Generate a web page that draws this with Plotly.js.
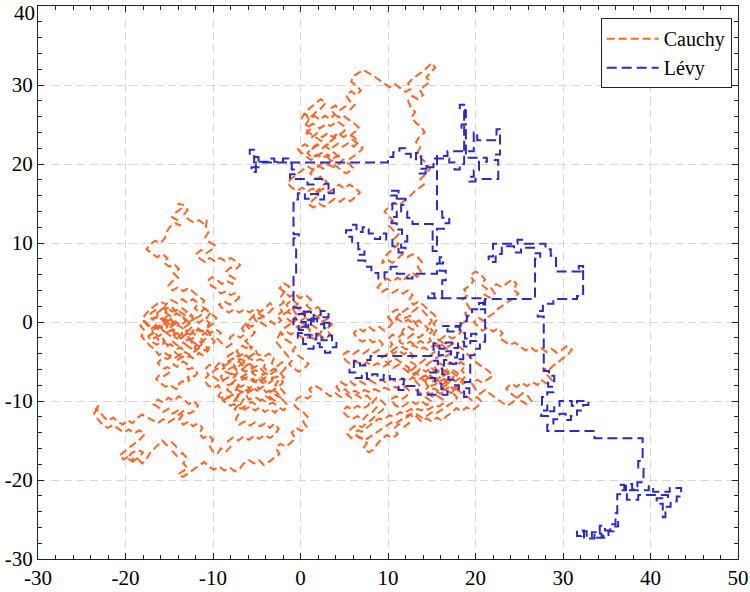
<!DOCTYPE html>
<html><head><meta charset="utf-8">
<script src="https://cdn.plot.ly/plotly-3.0.1.min.js"></script>
<style>html,body{margin:0;padding:0;background:#fff}</style>
</head><body><div id="chart" style="width:750px;height:592px"></div>
<script>
// ---- Cauchy random walk (orange) ----
const cauchyNearOrigin = [[0,0],[0.4,-0.3],[0.8,-0.6],[1.2,-0.3],[1.6,-0.6],[2.0,-0.9],[2.4,-1.2],[2.1,-1.6],[1.7,-1.9],[1.3,-1.6],[0.9,-1.9],[0.5,-2.2],[0.1,-1.9],[-0.3,-1.6],[-0.7,-1.3],[-1.1,-1.6],[-1.5,-1.3],[-1.9,-1.6],[-2.3,-1.3],[-2.0,-1.8],[-1.7,-2.2],[-1.3,-2.5],[-0.9,-2.8],[-0.6,-3.2],[-0.9,-3.6],[-0.6,-4.0],[-0.2,-4.3],[0.2,-4.6],[0.6,-4.9],[0.9,-5.3],[0.6,-5.7],[0.2,-6.0],[-0.2,-6.3],[-0.6,-6.0],[-1.0,-5.7],[-1.3,-5.3],[-1.0,-4.9],[-1.3,-4.5],[-1.6,-4.1],[-1.9,-3.7],[-2.2,-3.3],[-2.5,-2.9],[-2.8,-2.5],[-2.6,-2.0],[-2.3,-1.3],[-2.0,-0.9],[-1.6,-0.6],[-1.2,-0.3],[-0.8,0.0],[-0.4,0.3],[-0.7,0.7],[-1.1,1.0],[-1.5,1.3],[-1.1,1.7],[-0.7,2.0],[-0.3,1.7],[0.1,1.4],[0.5,1.1],[0.9,1.4],[1.3,1.1],[1.7,0.8],[2.1,0.5],[1.7,0.2],[1.3,0.5],[0.9,0.2],[0.5,0.5],[0.1,0.2],[0,0]];

const cauchyOrigin = [[0,0],[0.6,0.5],[0.2,1.2],[-0.5,1.0],[-0.9,1.7],[-0.3,2.3],[-1.0,2.8],[-1.6,2.2],[-1.2,1.5],[-1.9,1.0],[-1.4,0.3],[-0.7,-0.2],[-0.2,-0.9],[0.5,-0.5],[1.1,-1.0],[0.8,-1.7],[1.5,-2.1],[2.2,-1.6],[2.8,-2.2],[3.4,-1.6],[3.0,-0.9],[3.6,-0.3],[3.1,0.4],[2.4,0.0],[1.9,0.6],[2.5,1.2],[2.0,1.9],[1.3,1.5],[0.7,2.1],[1.2,2.8],[0.6,3.4],[-0.1,3.0],[-0.6,3.6],[-1.2,3.2],[-1.8,3.7],[-2.4,4.3],[-1.9,4.9],[-1.3,4.5],[-1.8,3.9],[-2.3,3.1],[-1.9,2.5],[-2.5,2.0],[-2.1,1.3],[-2.7,0.8],[-2.2,0.2],[-2.8,-0.4],[-3.4,0.1],[-3.9,-0.5],[-4.5,-0.1],[-4.2,0.6],[-4.8,1.1],[-5.4,0.7],[-5.0,0.0],[-5.6,-0.6],[-6.2,-0.2],[-6.7,-0.8],[-6.3,-1.5],[-6.9,-2.0],[-7.5,-1.5],[-8.1,-2.0],[-7.8,-2.7],[-8.4,-3.2],[-9.0,-2.7],[-9.5,-2.1],[-9.1,-1.4],[-9.7,-0.9],[-10.3,-1.4],[-10.8,-0.8],[-10.4,-0.1],[-11.0,0.4],[-11.6,-0.1],[-12.2,0.4]];

const cauchyLeftTangle = [[-12.6,0.1],[-12.9,-0.3],[-12.5,-0.7],[-12.8,-1.1],[-13.3,-1.0],[-13.6,-1.4],[-13.4,-1.9],[-13.8,-2.2],[-14.3,-2.0],[-14.5,-1.6],[-14.2,-1.2],[-14.6,-0.9],[-15.0,-1.2],[-15.4,-0.9],[-15.2,-0.5],[-15.6,-0.2],[-16.0,-0.5],[-16.3,-0.9],[-16.7,-0.6],[-17.0,-1.0],[-16.8,-1.4],[-17.2,-1.7],[-16.9,-2.1],[-16.5,-1.9],[-16.2,-2.3],[-15.8,-2.0],[-15.5,-2.4],[-15.7,-2.8],[-15.3,-3.1],[-14.9,-2.8],[-14.5,-3.1],[-14.1,-3.4],[-13.7,-3.2],[-13.4,-3.6],[-13.6,-4.0],[-14.0,-4.3],[-14.4,-4.6],[-14.8,-4.4],[-15.2,-4.7],[-15.6,-4.5],[-16.0,-4.8],[-16.3,-5.2],[-16.0,-5.6],[-15.6,-5.9],[-15.2,-5.7],[-14.8,-6.0],[-15.0,-6.4],[-15.4,-6.7],[-15.8,-7.0],[-16.2,-6.8],[-16.5,-7.2],[-16.2,-7.6],[-15.8,-7.9],[-15.4,-8.2],[-15.0,-7.9],[-14.6,-8.2],[-14.2,-8.5],[-13.8,-8.2],[-13.9,-7.8],[-13.5,-7.5],[-13.1,-7.7],[-12.7,-7.4],[-12.9,-7.0],[-12.5,-6.7],[-12.1,-6.9],[-11.8,-6.5],[-12.0,-6.1],[-12.4,-5.8],[-12.8,-6.0],[-13.2,-5.7],[-13.0,-5.3],[-13.4,-5.0],[-13.8,-5.3],[-14.1,-5.7],[-14.5,-5.4],[-14.3,-5.0],[-13.9,-4.7],[-13.5,-4.4],[-13.1,-4.6],[-12.7,-4.3],[-12.3,-4.6],[-11.9,-4.3],[-11.6,-3.9],[-11.2,-4.2],[-10.8,-3.9],[-10.5,-3.5],[-10.8,-3.1],[-11.2,-2.8],[-11.6,-3.1],[-12.0,-2.8],[-12.4,-2.5],[-12.8,-2.2],[-13.2,-2.4],[-13.1,-2.9],[-12.7,-3.2],[-12.3,-3.5],[-11.9,-3.7],[-12.1,-3.2],[-11.8,-2.8],[-11.4,-2.5],[-11.0,-2.2],[-10.6,-2.0],[-10.3,-1.6],[-10.6,-1.2],[-11.0,-0.9],[-11.4,-1.2],[-11.8,-1.0],[-12.2,-1.3],[-12.6,-1.6],[-13.0,-1.4],[-13.2,-1.0],[-13.6,-0.7],[-14.0,-0.4],[-14.4,-0.6],[-14.8,-0.3],[-14.6,0.1],[-15.0,0.4],[-15.4,0.2],[-15.8,0.5],[-16.2,0.3],[-16.6,0.6],[-17.0,0.4],[-17.3,0.8],[-17.0,1.2],[-16.6,1.5],[-16.2,1.3],[-15.8,1.7],[-15.4,2.0],[-15.0,1.6],[-14.6,1.3],[-14.2,1.6],[-13.8,1.3],[-13.4,1.0],[-13.0,0.7],[-12.6,0.8],[-12.2,0.4]];

const cauchyLeftCore = [[-12.8,0.0],[-13.4,0.6],[-13.0,1.3],[-13.6,1.8],[-14.3,1.4],[-14.8,2.0],[-15.5,1.6],[-15.1,0.9],[-15.7,0.3],[-16.3,0.8],[-16.9,0.3],[-16.5,-0.4],[-17.1,-0.9],[-17.6,-0.3],[-18.1,0.3],[-17.7,1.0],[-17.2,1.6],[-16.6,2.1],[-16.0,2.6],[-15.4,2.2],[-14.8,2.8],[-14.1,2.4],[-13.5,2.9],[-12.9,2.4],[-12.3,2.9],[-11.7,2.4],[-12.1,1.7],[-11.5,1.2],[-10.9,1.7],[-10.3,1.2],[-10.7,0.5],[-11.3,0.9],[-11.9,0.5],[-12.5,1.0],[-12.2,0.3],[-12.8,-0.3],[-13.4,-0.8],[-12.9,-1.4],[-13.5,-1.9],[-14.1,-1.4],[-14.7,-1.9],[-15.3,-1.4],[-14.9,-0.7],[-14.3,-0.2],[-14.8,0.4],[-15.4,-0.1],[-16.0,-0.6],[-15.6,-1.3],[-16.2,-1.8],[-16.8,-1.3],[-17.4,-1.8],[-17.0,-2.5],[-16.4,-2.9],[-15.8,-2.4],[-15.2,-2.9],[-14.6,-2.5],[-14.0,-3.0],[-13.4,-2.6],[-12.8,-3.1],[-12.3,-2.5],[-11.7,-3.0],[-11.1,-2.5],[-11.5,-1.9],[-10.9,-1.4],[-10.3,-1.9],[-9.8,-2.5],[-10.3,-3.1],[-10.9,-3.6],[-11.5,-3.2],[-12.1,-3.7],[-12.6,-4.2],[-13.2,-3.8],[-13.8,-4.3],[-14.4,-3.8],[-15.0,-4.3],[-15.6,-3.8],[-16.2,-4.2],[-16.6,-3.5],[-17.2,-3.0],[-17.7,-2.4],[-18.2,-1.8],[-17.8,-1.1],[-18.3,-0.5],[-17.8,0.1],[-17.3,-0.5],[-16.7,-0.9],[-16.1,-0.4],[-15.5,0.1],[-14.9,-0.4],[-14.3,0.1],[-13.7,-0.4],[-13.1,0.1],[-13.6,0.7],[-14.2,1.1],[-14.7,0.6],[-15.3,1.1],[-15.9,1.6],[-16.4,1.1],[-16.0,0.4],[-15.4,-0.1],[-15.9,-0.8],[-15.4,-1.4],[-14.8,-1.0],[-14.2,-1.5],[-13.7,-2.1],[-13.1,-1.7],[-12.5,-2.2],[-11.9,-1.8],[-12.4,-1.2],[-11.8,-0.7],[-11.2,-1.2],[-10.6,-0.7],[-10.0,-0.2],[-9.6,0.5],[-10.1,1.0],[-10.7,1.5],[-11.3,2.0],[-11.0,2.7],[-11.6,3.2],[-12.2,3.7]];

const cauchyUpperArm = [[-12.8,4.3],[-13.4,3.9],[-14.0,4.4],[-14.6,4.0],[-15.1,4.6],[-14.6,5.2],[-14.0,5.6],[-14.5,6.2],[-13.9,6.7],[-14.4,7.3],[-15.0,7.0],[-15.6,7.5],[-15.2,8.1],[-15.8,8.6],[-16.4,8.2],[-17.0,8.7],[-17.6,9.2],[-17.2,9.8],[-16.6,10.3],[-16.0,10.0],[-15.5,10.6],[-15.3,11.4],[-14.9,12.1],[-14.3,12.5],[-13.7,12.2],[-14.1,12.9],[-14.7,13.3],[-14.2,13.9],[-13.6,14.4],[-14.0,15.0],[-13.4,14.8],[-12.9,14.2],[-13.3,13.6],[-12.8,13.0],[-12.2,12.6],[-11.6,12.9],[-11.1,12.5],[-10.7,12.9],[-10.8,12.1],[-10.5,11.4],[-10.9,10.7],[-10.4,10.1],[-9.8,9.7],[-10.2,9.1],[-10.8,8.7],[-11.4,9.1],[-11.9,8.6],[-11.5,8.0],[-10.9,7.6],[-10.4,8.1],[-9.8,7.7],[-9.2,8.1],[-8.6,7.7],[-8.0,8.1],[-7.4,7.7],[-6.9,7.2],[-7.4,6.7],[-8.0,6.9],[-8.5,6.4],[-8.0,5.8],[-7.4,5.4],[-7.8,4.8],[-8.4,5.2],[-9.0,4.8],[-9.5,5.3],[-10.1,5.7],[-10.6,5.2],[-10.2,4.6],[-9.6,4.2],[-9.1,3.6],[-8.5,3.9],[-8.0,3.4],[-7.4,3.7],[-7.0,3.1],[-7.5,2.6],[-8.1,2.2],[-8.7,2.6],[-9.3,2.2],[-8.8,1.6],[-8.2,1.2],[-7.6,1.6],[-7.0,1.2],[-6.4,1.6],[-5.8,1.2],[-5.2,1.7],[-4.6,1.3],[-4.0,1.8],[-3.5,2.4],[-3.0,1.9],[-3.5,1.3],[-4.1,0.9],[-4.7,0.4],[-5.3,0.9],[-5.8,0.3],[-6.3,-0.3],[-5.8,-0.9],[-5.2,-1.3],[-5.7,-1.9],[-6.3,-2.4],[-5.8,-3.0]];

const cauchyLowerTangle = [[-6.2,-3.3],[-6.6,-3.0],[-7.0,-3.3],[-7.3,-3.7],[-7.0,-4.1],[-6.6,-4.4],[-6.2,-4.2],[-5.9,-4.6],[-6.2,-5.0],[-6.6,-5.2],[-7.0,-5.6],[-7.4,-5.9],[-7.8,-5.7],[-8.2,-6.0],[-8.0,-6.4],[-7.6,-6.7],[-7.2,-6.5],[-6.8,-6.8],[-6.5,-7.2],[-6.1,-7.0],[-5.7,-7.3],[-5.3,-7.6],[-4.9,-7.3],[-4.5,-7.0],[-4.1,-7.3],[-3.9,-7.7],[-4.2,-8.1],[-4.6,-8.4],[-5.0,-8.2],[-5.4,-8.5],[-5.8,-8.8],[-6.2,-9.1],[-6.6,-8.8],[-7.0,-9.1],[-7.4,-9.4],[-7.8,-9.2],[-8.2,-9.5],[-8.6,-9.3],[-9.0,-9.6],[-8.8,-10.0],[-8.4,-10.3],[-8.0,-10.6],[-7.6,-10.4],[-7.2,-10.7],[-6.8,-11.0],[-6.4,-10.7],[-6.0,-10.4],[-5.6,-10.1],[-5.2,-10.4],[-4.8,-10.1],[-4.4,-9.8],[-4.0,-10.1],[-3.6,-10.4],[-3.2,-10.2],[-2.8,-10.5],[-2.9,-10.0],[-3.3,-9.6],[-3.7,-9.3],[-3.5,-8.9],[-3.1,-8.6],[-2.7,-8.3],[-2.3,-8.0],[-2.0,-7.6],[-2.3,-7.2],[-2.7,-6.9],[-3.1,-7.1],[-3.5,-6.8],[-3.9,-6.5],[-4.3,-6.7],[-4.7,-6.4],[-5.1,-6.1],[-5.5,-6.3],[-5.9,-6.0],[-6.3,-6.3],[-6.7,-6.0],[-7.1,-6.2],[-7.5,-6.9],[-7.9,-7.2],[-8.3,-7.0],[-8.7,-7.3],[-9.1,-7.6],[-9.5,-7.3],[-9.9,-7.0],[-10.2,-6.6],[-9.9,-6.2],[-9.5,-5.9],[-9.1,-6.1],[-8.7,-5.8],[-8.9,-5.4],[-8.5,-5.1],[-8.1,-4.8],[-7.7,-4.6],[-7.3,-4.9],[-6.9,-4.7],[-6.5,-4.9],[-6.1,-4.6],[-5.7,-4.3],[-5.3,-4.0],[-5.6,-3.6],[-5.8,-3.0]];

const cauchyLowerCore = [[-5.2,-3.4],[-4.9,-4.1],[-4.2,-4.4],[-3.6,-4.0],[-3.0,-4.5],[-3.3,-5.2],[-2.7,-5.6],[-2.1,-5.1],[-1.7,-5.8],[-2.2,-6.4],[-2.9,-6.2],[-3.5,-6.7],[-3.2,-7.4],[-3.8,-7.9],[-4.5,-7.6],[-4.9,-6.9],[-5.5,-6.5],[-5.2,-5.8],[-5.8,-5.3],[-6.5,-5.6],[-7.0,-5.0],[-7.6,-5.4],[-7.3,-6.1],[-7.9,-6.6],[-8.6,-6.3],[-9.1,-6.9],[-8.8,-7.6],[-8.2,-8.0],[-7.5,-7.7],[-6.9,-8.2],[-6.2,-7.9],[-5.8,-8.5],[-6.3,-9.1],[-5.9,-9.8],[-5.2,-9.5],[-4.6,-9.9],[-4.0,-9.4],[-3.4,-9.8],[-2.9,-9.2],[-2.3,-9.6],[-1.8,-9.0],[-2.3,-8.4],[-2.9,-8.0],[-2.5,-7.4],[-1.9,-7.0],[-2.4,-6.3],[-3.0,-5.9],[-3.6,-6.3],[-4.2,-5.8],[-4.0,-5.1],[-4.6,-4.7],[-5.3,-5.0],[-5.9,-4.5],[-6.5,-4.0],[-7.1,-4.4],[-7.7,-3.9],[-8.3,-4.3],[-8.0,-5.0],[-8.6,-5.5],[-9.3,-5.2],[-9.8,-5.8],[-10.4,-5.4],[-10.9,-6.0],[-10.5,-6.7],[-11.0,-7.3],[-10.6,-8.0],[-10.0,-8.4],[-9.4,-8.0],[-9.0,-8.7],[-9.4,-9.4],[-8.8,-9.9],[-8.2,-9.5],[-7.6,-10.0],[-7.1,-9.4],[-6.5,-9.8],[-6.9,-10.5],[-6.4,-11.1],[-5.8,-10.7],[-5.2,-11.2],[-4.6,-10.8],[-4.1,-11.4],[-3.5,-11.0],[-2.9,-11.5],[-2.5,-10.8],[-1.9,-11.2],[-1.5,-10.5],[-2.0,-9.9],[-2.7,-8.9],[-3.3,-8.5],[-3.9,-8.9],[-4.4,-8.3],[-5.0,-8.7],[-5.5,-8.1],[-6.1,-8.6],[-6.7,-8.9],[-7.3,-8.5],[-7.8,-9.0],[-8.4,-8.6],[-8.0,-7.9],[-7.4,-7.3],[-6.8,-7.0],[-6.2,-6.6],[-6.6,-6.0],[-6.1,-5.4],[-5.5,-5.9],[-4.9,-5.5],[-4.4,-6.1],[-3.8,-6.8],[-4.3,-7.3],[-4.9,-7.8],[-5.4,-7.2],[-6.0,-7.4],[-6.5,-7.0],[-6.9,-7.6],[-7.3,-8.3],[-7.0,-9.0],[-7.4,-9.7],[-7.0,-10.4],[-7.5,-11.0],[-7.1,-11.7],[-7.4,-12.3],[-7.0,-13.0],[-6.4,-12.6],[-5.8,-13.1],[-5.2,-12.7],[-4.6,-13.2],[-4.0,-12.8],[-3.5,-13.4],[-3.0,-12.9],[-2.5,-13.5],[-2.9,-14.2],[-3.5,-14.7],[-4.1,-14.3],[-4.7,-14.8]];

const cauchyBottomLeft = [[-5.3,-14.4],[-5.9,-14.9],[-6.5,-14.5],[-7.1,-15.0],[-7.7,-14.6],[-8.3,-15.1],[-8.0,-15.8],[-8.5,-16.4],[-9.1,-16.0],[-9.5,-16.7],[-10.1,-16.3],[-10.4,-15.6],[-10.0,-14.9],[-10.5,-14.3],[-11.1,-14.7],[-11.6,-14.1],[-11.2,-13.4],[-11.7,-12.8],[-12.3,-13.2],[-12.8,-12.6],[-13.4,-13.0],[-13.9,-12.4],[-13.5,-11.8],[-14.0,-11.2],[-14.6,-11.6],[-15.1,-11.0],[-15.7,-11.4],[-16.2,-10.8],[-16.8,-10.4],[-16.3,-9.8],[-15.7,-10.2],[-15.1,-9.6],[-14.5,-10.0],[-13.9,-9.4],[-13.3,-9.8],[-12.8,-10.4],[-12.2,-10.0],[-11.7,-10.6],[-12.1,-11.2],[-12.7,-11.6],[-13.3,-11.2],[-13.9,-11.7],[-14.5,-12.3],[-15.1,-12.7],[-15.7,-12.3],[-16.3,-12.8],[-16.9,-12.4],[-17.5,-12.1],[-18.1,-11.7],[-18.7,-12.2],[-19.2,-12.8],[-19.8,-12.4],[-20.3,-13.0],[-20.9,-12.6],[-21.4,-12.1],[-22.0,-12.5],[-22.5,-12.0],[-22.9,-11.4],[-23.4,-11.0],[-23.0,-10.5],[-23.6,-11.6],[-23.1,-12.4],[-22.6,-13.0],[-22.0,-13.4],[-21.4,-13.0],[-20.8,-13.5],[-20.2,-14.0],[-19.6,-13.6],[-19.0,-14.1],[-18.4,-13.7],[-17.8,-14.2],[-18.3,-14.8],[-18.9,-15.3],[-19.5,-15.9],[-20.1,-16.4],[-20.7,-16.9],[-20.2,-17.4],[-19.6,-17.0],[-19.0,-17.5],[-18.4,-17.1],[-18.0,-16.5],[-18.6,-16.2],[-19.3,-16.6],[-19.8,-17.2],[-19.2,-17.7],[-18.6,-17.3],[-18.1,-17.9],[-17.6,-17.3],[-17.2,-16.6],[-16.7,-16.0],[-16.2,-15.4],[-15.8,-15.0],[-15.3,-15.6],[-14.7,-15.2],[-14.2,-15.8],[-14.6,-16.4],[-14.1,-17.0],[-13.5,-16.6],[-13.0,-17.2],[-13.4,-17.9],[-12.9,-18.5],[-13.5,-18.9],[-14.0,-19.3],[-13.4,-19.6],[-12.8,-19.1],[-12.2,-18.6],[-11.6,-18.2],[-11.0,-17.7],[-10.5,-18.3],[-9.9,-18.7],[-9.3,-18.3],[-8.7,-18.8],[-8.1,-18.4],[-7.5,-18.9],[-6.9,-18.5],[-6.5,-17.9],[-5.9,-17.5],[-5.3,-17.9],[-4.7,-17.5],[-4.2,-18.1],[-3.6,-17.7],[-3.0,-17.2],[-2.4,-16.7],[-2.8,-16.0],[-2.3,-15.4],[-1.7,-15.8],[-1.1,-15.3],[-0.6,-14.7],[-1.0,-14.0],[-0.5,-13.4],[0.1,-13.8],[0.7,-13.3],[0.3,-12.6],[0.8,-12.0],[0.3,-11.4],[-0.3,-11.0],[-0.8,-10.4],[-0.4,-9.7],[0.2,-9.3],[0.8,-9.7],[1.4,-9.2],[1.0,-8.5],[1.6,-8.0],[2.2,-8.4],[2.8,-8.9],[3.4,-9.4]];

const cauchyMiddle = [[4.0,-9.0],[4.6,-9.5],[5.2,-9.1],[5.8,-9.6],[6.4,-9.2],[7.0,-9.7],[7.6,-9.3],[8.1,-9.9],[7.7,-10.6],[7.1,-11.0],[6.5,-10.6],[5.9,-11.1],[5.3,-10.7],[4.8,-11.3],[5.3,-11.9],[5.9,-12.3],[6.5,-11.9],[7.1,-12.4],[7.6,-11.8],[8.2,-11.4],[8.7,-10.8],[8.2,-10.2],[8.7,-9.6],[9.3,-10.0],[9.8,-10.6],[9.3,-11.2],[8.7,-11.7],[8.2,-12.3],[7.6,-12.8],[7.0,-13.3],[6.4,-13.0],[5.8,-13.5],[5.3,-14.1],[5.8,-14.7],[6.4,-14.3],[7.0,-14.8],[7.6,-15.3],[7.2,-16.0],[7.8,-16.5],[8.4,-16.1],[8.8,-15.4],[9.3,-14.8],[9.9,-14.3],[10.5,-14.7],[11.1,-14.2],[10.7,-13.5],[11.2,-12.9],[11.8,-13.3],[12.4,-12.8],[12.1,-12.1],[12.7,-11.6],[13.3,-12.0],[13.8,-12.6],[14.4,-12.2],[15.0,-12.6],[15.6,-12.1],[16.2,-12.5],[16.7,-11.9],[17.3,-11.5],[17.8,-10.9],[18.4,-11.3],[19.0,-10.8],[19.6,-11.2],[20.2,-10.7],[20.7,-10.1],[20.2,-9.5],[19.6,-9.9],[19.0,-9.4],[18.4,-8.9],[17.8,-8.5],[17.2,-9.0],[16.6,-8.6],[16.0,-9.1],[15.4,-8.7],[14.8,-9.2],[14.2,-8.8],[14.6,-8.1],[14.1,-7.5],[14.7,-7.0],[15.3,-7.5],[15.9,-7.0],[16.5,-7.5],[17.1,-7.0],[17.7,-7.5],[18.3,-7.0],[17.9,-6.4],[17.3,-6.0],[16.7,-6.4],[16.1,-5.9],[15.5,-6.4],[14.9,-5.9],[14.3,-6.3],[13.7,-5.8],[13.3,-6.5],[13.8,-7.1],[14.4,-7.7],[15.0,-8.1],[15.6,-7.8],[16.2,-8.3],[16.8,-7.9],[17.4,-8.4],[18.0,-8.0],[18.5,-7.4],[18.9,-6.7],[18.4,-6.1],[18.9,-5.5],[18.3,-5.1],[17.7,-5.5],[17.1,-5.1],[16.5,-5.6],[15.9,-5.2],[15.3,-5.6],[15.7,-6.3],[16.3,-6.8],[16.9,-6.5],[17.5,-6.9],[17.0,-7.6],[16.4,-7.2],[15.8,-7.6],[15.2,-7.1],[14.6,-6.6],[14.0,-6.9],[13.4,-7.4],[12.8,-7.0],[12.2,-7.5],[11.6,-7.1],[11.0,-7.6],[10.4,-7.2],[9.8,-7.7],[9.2,-7.3],[8.6,-7.8],[8.0,-7.4],[7.4,-7.9],[6.8,-7.5],[6.2,-8.0],[5.7,-7.5],[5.2,-8.0],[4.6,-7.6],[4.1,-8.2],[4.5,-8.8],[5.1,-8.5],[5.6,-9.1],[6.2,-8.7],[6.8,-9.1],[7.3,-8.6],[7.9,-8.9],[8.5,-8.5],[9.1,-8.8],[9.6,-8.3],[10.2,-8.6],[10.8,-8.2],[11.4,-8.6],[12.0,-8.2],[12.5,-8.8],[12.1,-9.4],[11.5,-9.8],[10.9,-9.4],[10.3,-9.8],[10.8,-10.5],[11.4,-10.9],[12.0,-10.5],[12.6,-10.0],[13.2,-10.4],[13.8,-10.0],[14.4,-10.5],[15.0,-10.1],[14.4,-9.6],[13.8,-9.1],[13.2,-8.6],[13.6,-8.0],[13.1,-7.4],[13.0,-6.7],[13.5,-6.1],[13.1,-5.4],[12.5,-5.0],[12.9,-4.3],[12.4,-3.7],[11.8,-4.1],[11.2,-3.6],[10.6,-4.0],[10.1,-3.4],[10.5,-2.8],[10.0,-2.2],[10.5,-1.6],[11.1,-2.0],[11.7,-1.5],[12.3,-2.0],[12.9,-1.5],[13.5,-2.0],[14.1,-1.5],[14.6,-0.9],[14.1,-0.3],[13.5,0.2],[12.9,-0.2],[12.3,0.3],[11.7,-0.1],[11.1,0.4],[10.5,0.0],[10.0,0.6],[10.4,1.2],[11.0,1.6],[11.6,1.2],[12.2,1.7],[12.8,1.3],[13.4,1.8],[14.0,1.4],[14.5,0.8],[15.0,0.2],[14.6,-0.5],[15.1,-1.1],[14.6,-1.7],[14.9,-2.4],[14.3,-2.8],[13.7,-2.4],[13.1,-2.9],[12.5,-2.5],[11.9,-2.9],[11.3,-2.5],[11.5,-1.8],[11.7,-1.0],[12.2,-0.5],[12.8,-1.0],[13.4,-0.6],[13.0,0.1],[12.5,0.8],[11.9,0.5],[11.3,1.0],[10.8,0.4],[10.2,-0.6],[9.6,-1.1],[9.0,-0.6],[8.4,-1.1],[7.8,-0.6],[7.2,-1.2],[6.6,-0.8],[6.1,-1.4],[6.5,-2.1],[7.1,-2.5],[7.7,-2.1],[8.3,-2.6],[8.9,-2.2],[9.4,-2.8],[9.0,-3.5],[8.4,-3.9],[7.8,-3.5],[7.2,-4.0],[6.6,-3.6],[6.0,-4.1],[5.4,-3.7],[4.8,-4.2],[5.2,-4.9],[5.8,-5.4],[6.4,-5.0],[7.0,-5.5],[7.6,-5.1],[8.2,-5.6],[8.8,-5.2],[9.4,-5.7],[10.0,-5.3],[10.6,-5.8],[11.2,-5.4],[11.8,-5.9],[12.3,-6.4]];

const cauchyMiddleTangle = [[12.7,-6.7],[13.1,-6.4],[13.5,-6.7],[13.9,-7.0],[14.3,-6.8],[14.7,-7.2],[15.1,-7.5],[15.5,-7.3],[15.9,-7.6],[16.3,-7.9],[16.7,-7.6],[17.1,-7.9],[16.9,-8.3],[16.5,-8.6],[16.1,-8.4],[15.7,-8.7],[15.3,-8.4],[14.9,-8.6],[14.6,-8.9],[14.9,-9.3],[15.3,-9.6],[15.7,-9.4],[16.1,-9.7],[16.5,-10.0],[16.2,-10.4],[15.8,-10.7],[15.4,-10.5],[15.0,-10.8],[14.6,-11.1],[14.2,-10.9],[13.8,-11.2],[13.4,-11.0],[13.0,-11.3],[12.6,-11.0],[12.2,-11.3],[11.8,-11.6],[11.4,-11.4],[11.0,-11.7],[10.6,-12.0],[10.2,-11.8],[9.8,-12.1],[9.4,-12.4],[9.0,-12.2],[8.6,-12.5],[8.2,-12.8],[7.8,-13.2],[7.4,-13.5],[7.0,-13.9],[6.6,-13.7],[6.2,-14.0],[6.4,-14.4],[6.8,-14.7],[7.2,-14.5],[7.6,-14.8],[8.0,-14.5],[8.4,-14.2],[8.8,-13.9],[9.2,-13.6],[9.6,-13.3],[10.0,-13.0],[10.4,-12.7],[10.8,-12.9],[11.2,-12.6],[11.6,-12.3],[12.0,-12.0],[12.4,-11.7],[12.8,-11.9],[13.2,-11.6],[13.6,-11.9],[14.0,-12.2],[14.4,-11.9],[14.8,-11.6],[15.2,-11.3],[15.6,-11.5],[16.0,-11.2],[16.4,-10.9],[16.8,-10.6],[17.2,-10.3],[17.6,-10.0],[17.9,-9.6],[17.6,-9.2],[17.2,-8.9],[17.6,-8.6],[18.0,-8.3],[18.4,-8.0],[18.7,-7.6],[18.4,-7.2],[18.0,-6.9],[17.6,-6.6],[17.2,-6.3],[16.8,-6.0],[16.4,-6.3],[16.0,-6.6],[15.6,-6.3],[15.2,-6.0],[14.8,-5.7],[14.4,-5.4],[14.8,-5.1],[15.2,-4.8],[15.6,-4.5],[16.0,-4.2],[16.4,-4.5],[16.8,-4.2],[17.2,-3.9],[16.9,-3.5],[16.5,-3.2],[16.1,-2.9],[15.7,-3.2],[15.3,-2.9],[14.9,-3.2],[14.5,-3.5],[14.1,-3.2],[13.7,-3.5],[13.3,-3.2],[12.9,-2.9],[12.5,-3.2],[12.1,-3.5],[11.7,-3.2],[11.3,-3.0],[10.9,-3.3],[10.5,-3.6],[10.1,-3.9],[9.7,-4.2],[9.3,-4.5],[9.6,-4.9],[10.0,-5.2],[10.4,-4.9],[10.8,-4.6],[11.2,-4.9],[11.6,-5.2],[12.0,-5.5],[12.4,-5.8],[12.3,-6.4]];

const cauchyRightTail = [[12.9,-5.9],[13.5,-5.3],[14.1,-4.8],[14.7,-4.3],[15.3,-3.8],[15.9,-3.3],[15.5,-2.6],[16.1,-2.1],[16.7,-1.6],[17.3,-2.1],[17.9,-1.8],[18.4,-1.2],[18.0,-0.5],[18.6,-0.1],[19.2,0.4],[18.8,1.1],[19.4,1.6],[19.0,2.3],[18.5,2.9],[19.1,3.4],[18.7,4.1],[19.3,4.6],[19.8,5.2],[19.4,5.9],[20.0,6.4],[20.6,6.0],[21.1,5.4],[20.7,4.7],[21.3,4.2],[21.0,3.5],[21.6,3.1],[22.2,3.6],[21.8,4.3],[22.4,4.8],[23.0,4.4],[23.6,4.9],[24.2,5.4],[24.7,4.8],[24.3,4.1],[24.9,3.6],[24.4,3.0],[23.8,2.6],[23.2,2.1],[22.6,1.7],[22.1,1.1],[21.5,0.7],[21.0,0.1],[20.4,0.5],[19.8,0.0],[20.3,-0.6],[20.8,-1.1],[21.4,-0.7],[22.0,-1.2],[22.6,-0.8],[23.1,-1.4],[22.7,-2.0],[23.3,-2.5],[23.9,-2.9],[24.5,-2.6],[25.1,-3.1],[25.7,-3.6],[26.3,-3.2],[26.9,-3.7],[27.5,-3.3],[28.1,-3.8],[28.7,-3.4],[29.3,-3.9],[29.9,-3.5],[30.5,-3.0],[31.0,-3.5],[30.6,-4.1],[30.0,-4.6],[29.4,-5.1],[28.8,-5.6],[28.3,-6.2],[27.7,-5.8],[28.2,-6.7],[28.7,-7.3],[28.1,-7.8],[27.5,-7.3],[27.1,-8.0],[26.5,-7.6],[25.9,-8.1],[25.3,-7.7],[24.7,-8.2],[24.1,-7.8],[23.5,-8.4],[24.0,-9.0],[24.6,-9.5],[25.2,-9.9],[25.8,-10.4],[26.4,-10.0],[26.0,-9.4],[25.4,-9.0],[24.8,-9.6],[24.2,-10.2],[23.6,-10.6],[23.0,-10.2],[22.4,-9.7],[21.8,-9.2],[21.1,-8.6],[20.5,-9.1],[20.0,-8.5],[19.6,-7.8],[20.2,-7.3],[20.8,-7.7],[21.4,-7.2],[22.0,-6.8],[21.5,-6.2],[20.9,-5.8],[20.3,-5.3],[19.7,-4.8],[19.2,-4.2],[18.7,-3.6],[18.1,-3.1],[17.5,-2.7],[16.9,-3.1],[16.3,-2.7]];

const cauchyTopLobe = [[15.7,-2.2],[15.2,-1.6],[15.6,-0.9],[15.2,-0.2],[15.7,0.4],[15.2,1.0],[14.6,1.5],[14.1,2.1],[13.5,2.6],[12.9,2.2],[12.4,2.8],[12.8,3.4],[12.3,4.0],[11.7,3.6],[11.1,4.1],[10.5,3.7],[9.9,4.2],[9.3,3.8],[8.8,4.4],[9.3,5.0],[9.9,5.5],[10.5,5.1],[11.1,5.6],[11.7,5.2],[12.2,5.8],[12.8,6.3],[13.3,5.7],[13.8,6.3],[13.4,7.0],[13.9,7.6],[13.4,8.2],[12.8,8.6],[12.2,8.2],[11.6,8.6],[11.1,8.0],[10.5,7.5],[9.9,7.9],[9.3,7.4],[9.6,8.2],[10.1,8.8],[10.7,9.3],[11.2,9.9],[10.7,10.5],[11.2,11.1],[10.6,11.6],[10.1,12.2],[10.6,12.8],[10.1,13.4],[9.6,14.0],[10.1,14.6],[10.7,15.1],[11.3,14.7],[11.8,15.3],[12.4,15.8],[12.9,16.4],[13.5,16.9],[14.1,17.4],[13.7,18.1],[14.3,18.7],[14.8,19.4],[14.4,20.1],[13.8,20.7],[13.3,21.4],[13.7,22.1],[13.2,22.8],[13.6,23.5],[14.2,24.0],[13.8,24.7],[13.2,25.2],[12.7,25.9],[13.1,26.6],[12.6,27.2],[12.3,28.0],[12.8,28.6],[13.4,28.2],[14.0,28.7],[13.6,29.4],[14.2,29.9],[14.8,30.4],[14.4,31.0],[14.9,31.6],[15.4,32.2],[15.0,32.8],[14.5,32.3],[14.0,31.7],[13.4,31.3],[12.8,30.8],[12.3,30.2],[12.6,29.5],[12.0,29.1],[11.4,29.6],[10.8,30.1],[10.2,29.7],[9.6,30.2],[9.0,30.7],[8.4,31.1],[7.8,31.5],[7.2,31.9],[6.6,31.5],[6.0,31.1],[5.8,30.4],[6.4,29.9],[6.9,29.3],[6.4,28.7],[5.8,29.2],[5.2,28.7],[5.6,28.0],[6.2,27.5],[5.7,26.9],[5.1,27.3],[4.5,26.8],[4.0,27.4],[3.4,27.0],[3.9,26.3],[3.4,25.7],[2.8,26.1],[2.2,25.6],[1.6,26.1],[1.0,25.6],[0.6,26.3],[0.1,25.7],[0.5,26.5],[1.1,27.1],[1.7,27.6],[2.3,28.2],[2.9,27.8],[2.4,27.1],[1.8,26.6],[1.2,26.0],[0.6,25.0],[1.2,24.5],[0.7,23.9],[1.3,23.4],[1.9,23.9],[2.5,23.4],[3.1,23.9],[3.7,23.4],[4.3,23.9],[4.9,23.4],[5.5,23.8],[6.1,23.4],[6.6,22.8],[6.1,22.2],[5.5,22.7],[4.9,22.2],[4.3,22.6],[3.7,22.1],[3.1,22.5],[2.5,22.0],[1.9,22.5],[1.3,22.0],[0.8,21.4],[1.3,20.8],[1.9,21.2],[2.5,20.7],[3.1,21.2],[3.7,20.7],[4.3,21.1],[4.9,20.6],[4.4,20.0],[3.8,19.6],[3.2,19.9],[2.6,19.4],[2.0,19.8],[1.4,19.3],[0.8,19.7],[0.2,19.2],[-0.4,18.7],[-1.0,18.2],[-1.5,17.6],[-1.0,17.0],[-0.4,16.6],[0.2,17.0],[0.8,16.5],[1.4,16.9],[2.0,16.4],[2.6,16.9],[3.2,16.4],[3.8,16.9],[4.4,17.4],[5.0,16.9],[5.6,17.4],[6.2,17.0],[6.8,16.4],[6.3,15.8],[5.7,15.3],[5.1,15.7],[4.5,15.2],[3.9,15.6],[3.3,15.1],[2.7,14.6],[2.1,15.0],[1.5,14.5],[0.9,14.9]];

const cauchyTopTangle = [[1.3,15.3],[1.7,15.7],[2.1,16.1],[1.8,16.5],[2.2,16.9],[2.6,17.3],[3.0,17.7],[2.7,18.1],[2.3,18.4],[1.9,18.1],[1.5,18.4],[1.1,18.8],[1.4,19.2],[1.8,19.5],[2.2,19.8],[2.6,20.2],[3.0,19.9],[3.4,20.3],[3.8,20.6],[4.2,20.9],[4.0,21.3],[3.6,21.6],[3.2,21.9],[2.8,22.3],[3.2,22.7],[3.6,23.0],[4.0,23.3],[4.4,23.7],[4.8,24.0],[5.2,24.4],[5.0,24.8],[4.6,25.1],[4.2,25.4],[3.8,25.1],[3.4,24.8],[3.0,25.1],[2.6,24.8],[2.2,24.5],[1.8,24.8],[1.4,25.1],[1.0,24.8],[0.6,24.5],[0.8,24.1],[1.2,23.8],[1.6,23.5],[2.0,23.2],[2.4,22.9],[2.1,22.5],[1.7,22.2],[1.3,21.9],[0.9,22.2],[0.5,22.5],[0.1,22.2],[-0.3,21.9],[0.0,21.5],[0.4,21.2],[0.8,20.9],[1.2,20.5],[1.6,20.8],[2.0,21.1],[2.4,21.4],[2.8,21.1],[3.2,20.8],[3.6,20.1],[4.0,19.8],[4.4,19.5],[4.8,19.1],[5.2,18.8],[5.6,19.1],[6.0,19.5],[5.7,19.9],[5.3,20.2],[5.6,20.6],[6.0,20.9],[6.4,21.3],[6.8,21.6],[7.1,22.0],[6.8,22.4],[6.4,22.7],[6.0,23.1],[5.6,23.4],[5.9,23.8],[6.3,24.1],[6.7,24.5],[6.4,24.9],[6.0,25.2],[5.6,25.6],[5.2,25.9],[4.8,26.2],[4.4,25.9],[4.0,26.2],[3.6,26.5]];

// ---- Lévy flight (blue): axis-aligned steps ----
const levyOrigin = [[0,0],[0.6,0],[0.6,-0.5],[1.2,-0.5],[1.2,0.3],[0.5,0.3],[0.5,1.0],[-0.2,1.0],[-0.2,0.4],[-0.8,0.4],[-0.8,-0.3],[-0.2,-0.3],[-0.2,-1.0],[0.5,-1.0],[0.5,-1.6],[1.1,-1.6],[1.1,-2.2],[1.8,-2.2],[1.8,-1.5],[2.4,-1.5],[2.4,-2.3],[3.0,-2.3],[3.0,-1.7],[3.6,-1.7],[3.6,-2.5],[4.1,-2.5],[4.1,-3.2],[3.4,-3.2],[3.4,-3.9],[2.8,-3.9],[2.8,-3.2],[2.2,-3.2],[2.2,-2.7],[1.5,-2.7],[1.5,-3.4],[0.9,-3.4],[0.9,-2.8],[0.3,-2.8],[0.3,-2.0],[-0.3,-2.0],[-0.3,-1.4],[0.2,-1.4],[0.2,-0.6],[0.9,-0.6],[0.9,0.1],[1.5,0.1],[1.5,0.9],[2.3,0.9],[2.3,1.4],[3.2,1.4],[3.2,0.6],[2.6,0.6],[2.6,-0.1],[3.3,-0.1],[3.3,-0.8],[2.7,-0.8],[2.7,-0.3],[1.9,-0.3],[1.9,0.4],[1.2,0.4],[1.2,1.3],[0.4,1.3],[0.4,1.8],[-0.8,1.8]];

const levyUpperLeft = [[-0.8,6.0],[-0.5,6.0],[-0.5,9.5],[-0.8,9.5],[-0.8,10.6],[-0.2,10.6],[-0.2,11.1],[-0.8,11.1],[-0.8,15.5],[-0.3,15.5],[-0.3,16.3],[0.5,16.3],[0.5,15.6],[1.2,15.6],[1.2,16.2],[2.0,16.2],[2.0,15.5],[2.7,15.5],[2.7,16.3],[3.8,16.3],[3.8,16.8],[3.2,16.8],[3.2,17.5],[2.5,17.5],[2.5,18.1],[1.5,18.1],[1.5,17.4],[0.8,17.4],[0.8,18.1],[-1.2,18.1],[-1.2,18.7],[-0.6,18.7],[-0.6,19.3],[-1.0,19.3],[-1.0,20.2],[-5.3,20.2],[-5.3,21.0],[-5.8,21.0],[-5.8,21.8],[-5.3,21.8],[-5.3,20.9],[-4.8,20.9],[-4.8,19.6],[-5.6,19.6],[-5.6,19.0],[-5.1,19.0],[-5.1,20.3],[-3.5,20.3],[-3.5,20.7],[-3.0,20.7],[-3.0,20.3],[-2.0,20.3],[-2.0,20.7],[-1.4,20.7],[-1.4,20.2],[10.0,20.2]];

const levyTop = [[10.0,20.9],[10.6,20.9],[10.6,21.5],[11.3,21.5],[11.3,22.0],[12.0,22.0],[12.0,21.3],[12.6,21.3],[12.6,20.6],[13.2,20.6],[13.2,21.4],[13.8,21.4],[13.8,20.0],[14.4,20.0],[14.4,19.4],[13.6,19.4],[13.6,18.8],[14.3,18.8],[14.3,19.6],[15.2,19.6],[15.2,20.7],[17.0,20.7],[17.0,20.2],[17.6,20.2],[17.6,19.3],[18.2,19.3],[18.2,20.0],[18.7,20.0],[18.7,27.5],[18.2,27.5],[18.2,26.8],[18.9,26.8],[18.9,25.0],[18.4,25.0],[18.4,24.3],[18.9,24.3],[18.9,20.8],[21.3,20.8],[21.3,20.3],[20.4,20.3],[20.4,19.2],[19.8,19.2],[19.8,18.4],[19.3,18.4],[19.3,17.8],[20.0,17.8],[20.0,18.1],[22.6,18.1],[22.6,20.5],[22.2,20.5],[22.2,21.2],[22.8,21.2],[22.8,24.4],[22.4,24.4],[22.4,23.0],[20.2,23.0],[20.2,24.0],[19.8,24.0],[19.8,21.6],[16.8,21.6],[16.8,21.0],[15.6,21.0],[15.6,14.0],[16.2,14.0],[16.2,13.2],[17.0,13.2],[17.0,12.5],[16.4,12.5],[16.4,11.8],[15.6,11.8],[15.6,9.0],[15.1,9.0],[15.1,12.4],[13.5,12.4]];

const levyMiddle = [[12.8,12.4],[12.8,13.2],[12.2,13.2],[12.2,14.0],[11.5,14.0],[11.5,14.8],[12.0,14.8],[12.0,15.6],[11.2,15.6],[11.2,16.6],[10.3,16.6],[10.3,16.0],[11.0,16.0],[11.0,15.0],[10.5,15.0],[10.5,14.2],[11.0,14.2],[11.0,13.3],[10.4,13.3],[10.4,12.5],[11.0,12.5],[11.0,11.7],[11.6,11.7],[11.6,10.9],[12.2,10.9],[12.2,10.2],[11.5,10.2],[11.5,9.4],[12.0,9.4],[12.0,8.8],[11.2,8.8],[11.2,9.6],[10.5,9.6],[10.5,10.4],[9.8,10.4],[9.8,11.2],[9.1,11.2],[9.1,10.5],[8.5,10.5],[8.5,11.2],[7.8,11.2],[7.8,12.0],[7.1,12.0],[7.1,11.4],[6.4,11.4],[6.4,12.3],[5.8,12.3],[5.8,11.6],[5.2,11.6],[5.2,10.8],[5.9,10.8],[5.9,10.0],[6.6,10.0],[6.6,9.2],[7.3,9.2],[7.3,8.5],[6.6,8.5],[6.6,7.8],[7.4,7.8],[7.4,7.0],[8.1,7.0],[8.1,6.2],[8.9,6.2],[8.9,5.5],[9.6,5.5],[9.6,6.3],[10.3,6.3],[10.3,7.0],[11.0,7.0],[11.0,6.1],[12.2,6.1],[12.2,5.5],[12.8,5.5],[12.8,6.1],[15.6,6.1],[15.6,7.4],[16.3,7.4],[16.3,8.2],[15.9,8.2],[15.9,6.5],[16.6,6.5],[16.6,5.3],[16.2,5.3],[16.2,3.0],[14.6,3.0],[14.6,3.6],[15.3,3.6],[15.3,3.0],[21.0,3.0],[21.0,2.4],[20.4,2.4],[20.4,1.6],[19.6,1.6],[19.6,0.8],[19.0,0.8],[19.0,0.1],[18.3,0.1],[18.3,-0.5],[16.2,-0.5]];

const levyLower = [[16.8,-0.5],[16.8,-1.2],[17.5,-1.2],[17.5,-0.6],[18.2,-0.6],[18.2,-1.4],[18.8,-1.4],[18.8,-2.1],[19.5,-2.1],[19.5,-1.5],[20.1,-1.5],[20.1,-2.4],[19.4,-2.4],[19.4,-3.1],[18.7,-3.1],[18.7,-2.5],[18.0,-2.5],[18.0,-3.3],[17.3,-3.3],[17.3,-2.6],[16.6,-2.6],[16.6,-3.4],[15.9,-3.4],[15.9,-2.7],[15.2,-2.7],[15.2,-3.5],[15.8,-3.5],[15.8,-4.2],[16.5,-4.2],[16.5,-3.7],[17.2,-3.7],[17.2,-4.5],[17.9,-4.5],[17.9,-3.9],[18.6,-3.9],[18.6,-4.7],[17.8,-4.7],[17.8,-5.3],[17.1,-5.3],[17.1,-4.8],[16.4,-4.8],[16.4,-5.5],[15.7,-5.5],[15.7,-4.9],[15.0,-4.9],[15.0,-4.3],[8.0,-4.3],[8.0,-4.8],[7.4,-4.8],[7.4,-5.5],[6.8,-5.5],[6.8,-4.9],[6.1,-4.9],[6.1,-5.7],[5.6,-5.7],[5.6,-6.4],[6.3,-6.4],[6.3,-7.1],[7.0,-7.1],[7.0,-6.5],[7.6,-6.5],[7.6,-7.2],[8.2,-7.2],[8.2,-6.6],[8.8,-6.6],[8.8,-7.3],[9.5,-7.3],[9.5,-6.7],[10.2,-6.7],[10.2,-7.2],[11.8,-7.2],[11.8,-7.9],[11.2,-7.9],[11.2,-8.6],[11.9,-8.6],[11.9,-8.1],[12.5,-8.1],[13.4,-8.1],[13.4,-9.2],[16.8,-9.2],[16.8,-8.5],[16.1,-8.5],[16.1,-7.8],[15.4,-7.8],[15.4,-7.1],[14.8,-7.1],[14.8,-6.4],[15.5,-6.4],[15.5,-5.9],[16.2,-5.9],[16.2,-6.6],[16.9,-6.6],[16.9,-7.3],[17.5,-7.3],[17.5,-8.0],[18.1,-8.0],[18.1,-8.8],[18.7,-8.8],[18.7,-9.5],[19.3,-9.5],[19.3,-8.4],[18.8,-8.4],[18.8,-7.6],[19.4,-7.6],[19.4,-4.2],[19.9,-4.2],[19.9,-3.4],[20.5,-3.4],[20.5,-2.5],[21.1,-2.5],[21.1,1.6],[20.6,1.6],[20.6,2.2],[21.1,2.2],[21.1,2.9],[26.8,2.9]];

const levyRight = [[26.8,8.0],[27.4,8.0],[27.4,8.7],[26.7,8.7],[26.7,9.4],[25.2,9.4],[25.2,8.8],[24.4,8.8],[24.4,9.6],[23.0,9.6],[23.0,8.6],[22.3,8.6],[22.3,7.6],[21.5,7.6],[21.5,8.3],[22.0,8.3],[22.0,9.9],[24.8,9.9],[24.8,10.4],[25.6,10.4],[25.6,9.9],[28.0,9.9],[28.0,9.2],[28.6,9.2],[28.6,8.4],[29.2,8.4],[29.2,6.4],[32.3,6.4],[32.3,7.1],[31.8,7.1],[31.8,6.6],[32.3,6.6],[32.3,3.3],[31.6,3.3],[31.6,2.9],[28.9,2.9],[28.9,2.3],[27.7,2.3],[27.7,1.4],[27.1,1.4],[27.1,0.7],[27.8,0.7],[27.8,-6.2]];

const levyBottom = [[28.4,-6.2],[28.4,-6.8],[29.0,-6.8],[29.0,-7.5],[28.3,-7.5],[28.3,-8.2],[28.9,-8.2],[28.9,-8.9],[28.2,-8.9],[28.2,-9.5],[27.6,-9.5],[27.6,-10.5],[28.2,-10.5],[28.2,-11.2],[27.5,-11.2],[27.5,-11.9],[28.3,-11.9],[28.3,-11.3],[29.0,-11.3],[29.0,-10.6],[29.6,-10.6],[29.6,-10.0],[31.0,-10.0],[31.0,-10.6],[31.6,-10.6],[31.6,-10.0],[32.9,-10.0],[32.9,-10.5],[32.3,-10.5],[32.3,-11.2],[31.6,-11.2],[31.6,-11.9],[30.9,-11.9],[30.9,-12.4],[30.3,-12.4],[30.3,-11.6],[29.6,-11.6],[29.6,-12.3],[28.9,-12.3],[28.9,-13.0],[28.2,-13.0],[28.2,-13.8],[33.6,-13.8],[33.6,-14.7],[39.1,-14.7],[39.1,-17.6],[38.6,-17.6],[38.6,-18.6],[39.2,-18.6],[39.2,-20.3],[38.5,-20.3],[38.5,-21.2],[37.9,-21.2],[37.9,-20.5],[37.2,-20.5],[37.2,-21.3],[36.6,-21.3],[36.6,-20.6],[37.0,-20.6],[37.0,-21.3],[39.8,-21.3],[39.8,-20.8],[40.3,-20.8],[40.3,-21.5],[42.2,-21.5],[42.2,-21.0],[43.5,-21.0],[43.5,-22.1],[43.0,-22.1],[43.0,-22.7],[42.3,-22.7],[42.3,-23.4],[41.7,-23.4],[41.7,-24.7],[41.4,-24.7],[41.4,-23.0],[40.7,-23.0],[40.7,-22.3],[42.0,-22.3],[42.0,-21.9],[38.6,-21.9],[38.6,-22.5],[37.3,-22.5],[37.3,-21.8],[36.2,-21.8],[36.2,-24.2],[36.0,-24.2],[36.0,-25.6],[35.4,-25.6],[35.4,-26.4],[34.8,-26.4],[34.8,-25.8],[34.2,-25.8],[34.2,-26.8],[34.6,-26.8],[34.6,-27.3],[33.9,-27.3],[33.9,-26.6],[33.3,-26.6],[33.3,-27.2],[32.7,-27.2],[32.7,-26.5],[32.1,-26.5],[32.1,-27.1],[31.6,-27.1],[31.6,-26.4],[32.4,-26.4],[32.4,-27.4],[33.6,-27.4],[33.6,-26.8],[34.4,-26.8],[34.4,-27.3],[35.2,-27.3],[35.2,-26.5],[35.8,-26.5],[35.8,-25.9],[36.3,-25.9],[36.3,-25.2]];

// ---- names and axis ticks ----
const seriesNames = ['Cauchy', 'Lévy'];
const xTickVals = [-30,-20,-10,0,10,20,30,40,50];
const xTickText = ['-30','-20','-10','0','10','20','30','40','50'];
const yTickVals = [-30,-20,-10,0,10,20,30,40];
const yTickText = ['-30','-20','-10','0','10','20','30','40'];

const cauchyPts = [].concat(cauchyNearOrigin, cauchyOrigin, cauchyLeftTangle, cauchyLeftCore, cauchyUpperArm,
  cauchyLowerTangle, cauchyLowerCore, cauchyBottomLeft, cauchyMiddle, cauchyMiddleTangle,
  cauchyRightTail, cauchyTopLobe, cauchyTopTangle);
const levyPts = [].concat(levyOrigin, levyUpperLeft, levyTop, levyMiddle, levyLower, levyRight, levyBottom);

const serif = '"Liberation Serif", "Times New Roman", Times, serif';
const tickFont = {family: serif, size: 21, color: '#000'};
const axisCommon = {
  tickmode: 'array', ticks: 'inside', ticklen: 6, tickwidth: 1, tickcolor: '#222',
  showline: true, linecolor: '#222', linewidth: 1, mirror: 'ticks',
  showgrid: true, gridcolor: '#d6d6d6', gridwidth: 1, griddash: '8px,5px',
  zeroline: false, tickfont: tickFont,
  minor: {dtick: 2, ticks: 'inside', ticklen: 4, tickcolor: '#222', showgrid: false}
};

const traces = [
  {x: cauchyPts.map(p => p[0]), y: cauchyPts.map(p => p[1]), name: seriesNames[0], type: 'scatter', mode: 'lines',
   line: {color: 'rgb(255,102,38)', width: 2, dash: '8px,4px'}},
  {x: levyPts.map(p => p[0]), y: levyPts.map(p => p[1]), name: seriesNames[1], type: 'scatter', mode: 'lines',
   line: {color: 'rgb(43,43,200)', width: 2, dash: '10px,5px'}}
];

// top-most y label drawn as an annotation, nudged so it stays inside the picture
const yTopLabel = yTickText[yTickText.length - 1];
const yTickTextShown = yTickText.slice(0, -1).concat(['']);

const layout = {
  width: 750, height: 592,
  margin: {l: 38, r: 12, t: 6, b: 33, pad: 0},
  paper_bgcolor: '#fff', plot_bgcolor: '#fff',
  showlegend: true,
  legend: {x: 0.991, y: 0.978, xanchor: 'right', yanchor: 'top', bgcolor: '#fff',
           bordercolor: '#222', borderwidth: 1, font: {family: serif, size: 20, color: '#000'},
           itemwidth: 52, tracegroupgap: 0},
  xaxis: Object.assign({}, axisCommon, {range: [-30, 50], tickvals: xTickVals, ticktext: xTickText}),
  yaxis: Object.assign({}, axisCommon, {range: [-30, 40], tickvals: yTickVals, ticktext: yTickTextShown}),
  annotations: [{x: 0, xref: 'paper', xanchor: 'right', xshift: -1, y: 40, yref: 'y', yanchor: 'top', yshift: 7,
                 text: yTopLabel, showarrow: false, font: tickFont}]
};

Plotly.newPlot('chart', traces, layout, {staticPlot: true, displayModeBar: false});
</script>
</body></html>
